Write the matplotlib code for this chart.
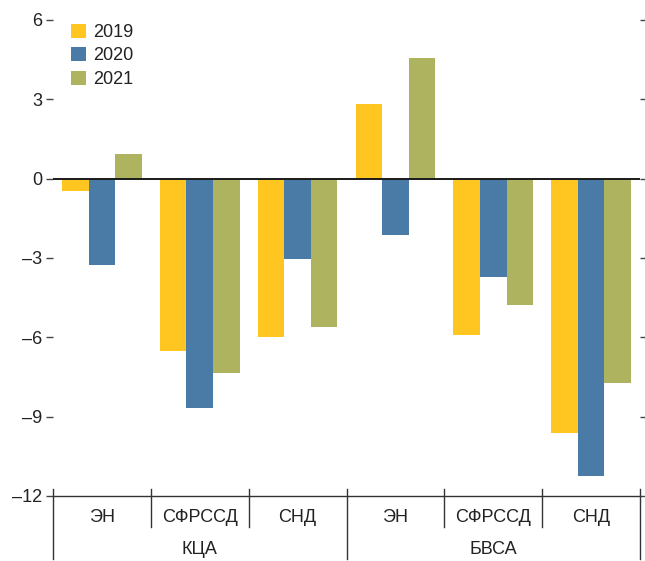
import numpy as np
import matplotlib.pyplot as plt

plt.rcParams['font.family'] = ['Liberation Sans Narrow', 'Liberation Sans', 'DejaVu Sans']

# data
groups = ['КЦА', 'БВСА']
subcats = ['ЭН', 'СФРССД', 'СНД']
years = ['2019', '2020', '2021']
v2019 = [-0.45, -6.5, -6.0, 2.84, -5.9, -9.62]
v2020 = [-3.25, -8.67, -3.03, -2.12, -3.71, -11.25]
v2021 = [0.95, -7.35, -5.6, 4.55, -4.77, -7.73]
yticks = [6, 3, 0, -3, -6, -9, -12]

colors = ['#FFC520', '#4A7BA6', '#AEB360']
series = [v2019, v2020, v2021]

fig = plt.figure(figsize=(6.45, 5.61), dpi=100)
ax = fig.add_axes([53 / 645, 65 / 561, 587 / 645, 476 / 561])

n = len(v2019)
x = np.arange(n)
w = 0.272
for i, (vals, c, lab) in enumerate(zip(series, colors, years)):
    ax.bar(x + (i - 1) * w, vals, width=w, color=c, label=lab, linewidth=0)

ax.set_xlim(-0.5, n - 0.5)
ax.set_ylim(-12, 6)
ax.axhline(0, color='#1a1a1a', lw=1.4, zorder=3)

for s in ['left', 'right', 'top']:
    ax.spines[s].set_visible(False)
ax.spines['bottom'].set_color('#333333')
ax.spines['bottom'].set_linewidth(1.0)

ax.set_yticks(yticks)
ax.set_yticklabels([str(t).replace('-', '\u2013') for t in yticks])
ax.tick_params(axis='y', which='both', left=True, right=True, labelleft=True,
               labelright=False, length=5, width=1, color='#444444',
               labelsize=13, pad=3, labelcolor='#222222')
ax.set_xticks([])

# category labels and separators under the axis
trans = ax.get_xaxis_transform()
for k in range(n + 1):
    xb = k - 0.5
    full = k in (0, n // 2, n)
    y0 = -0.132 if full else -0.065
    ax.plot([xb, xb], [0.015, y0], transform=trans, color='#333333', lw=1.0,
            clip_on=False)
for k in range(n):
    ax.text(k, -0.045, subcats[k % 3], transform=trans, ha='center', va='center',
            fontsize=13, color='#222222')
for g, name in enumerate(groups):
    ax.text(g * 3 + 1, -0.113, name, transform=trans, ha='center', va='center',
            fontsize=13, color='#222222')

leg = ax.legend(loc='upper left', bbox_to_anchor=(0.013, 1.015), frameon=False,
                fontsize=13, handlelength=0.8, handleheight=0.8,
                handletextpad=0.4, labelspacing=0.35, borderaxespad=0.2)
for t in leg.get_texts():
    t.set_color('#222222')

fig.savefig('out.png', dpi=100)
